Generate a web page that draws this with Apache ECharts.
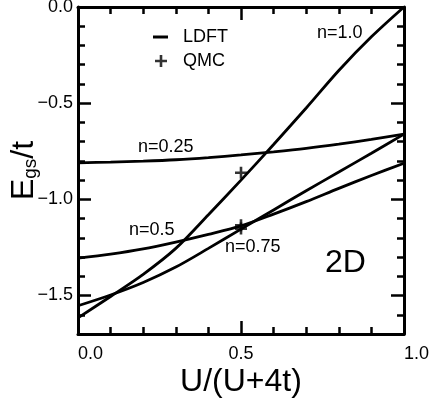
<!DOCTYPE html>
<html>
<head>
<meta charset="utf-8">
<script src="https://cdn.jsdelivr.net/npm/echarts@6/dist/echarts.min.js"></script>
<style>html,body{margin:0;padding:0;background:#fff}#c{width:429px;height:399px}</style>
</head>
<body>
<div id="c"></div>
<script>
// ---- data ----
const xs = [0.0, 0.1, 0.2, 0.3, 0.4, 0.5, 0.6, 0.7, 0.8, 0.9, 1.0];
const ldft_n100 = [-1.616, -1.505, -1.390, -1.255, -1.080, -0.900, -0.715, -0.525, -0.330, -0.155, 0.000];
const ldft_n025 = [-0.810, -0.806, -0.801, -0.794, -0.783, -0.769, -0.753, -0.735, -0.713, -0.688, -0.661];
const ldft_n050 = [-1.305, -1.285, -1.258, -1.222, -1.182, -1.138, -1.077, -1.012, -0.943, -0.876, -0.812];
const ldft_n075 = [-1.553, -1.497, -1.432, -1.352, -1.255, -1.155, -1.055, -0.955, -0.858, -0.760, -0.661];
const qmcX = [0.5, 0.5, 0.5];
const qmcY = [-0.862, -1.135, -1.152];
const yMajorTicks = [-1.5, -1.0, -0.5, 0.0];
const xTickLabels = ['0.0', '0.5', '1.0'];

const FONT = 'Liberation Sans';
const plus = 'path://M4.7,0h2.6v4.7h4.7v2.6h-4.7v4.7h-2.6v-4.7h-4.7v-2.6h4.7z';
const toPairs = ys => xs.map((x, i) => [x, ys[i]]);
const fmt = v => (v < 0 ? '\u2212' : '') + Math.abs(v).toFixed(1);

const lineStyle = {color: '#000', width: 3};
const tickMajor = {show: true, inside: true, length: 13, lineStyle: {color: '#000', width: 2.5}};
const tickMinor = {show: true, inside: true, length: 7, lineStyle: {color: '#000', width: 2.5}};

function xAx(pos, withLabel) {
  return {
    type: 'value', position: pos, min: 0, max: 1, interval: 0.5,
    axisLine: {show: true, onZero: false, lineStyle: lineStyle},
    axisTick: tickMajor,
    minorTick: {show: true, splitNumber: 5, length: 7, lineStyle: {color: '#000', width: 2.5}},
    splitLine: {show: false}, minorSplitLine: {show: false},
    axisLabel: withLabel ? {
      show: true, margin: 11, color: '#000', fontFamily: FONT, fontSize: 18,
      alignMinLabel: 'left', alignMaxLabel: 'left',
      formatter: v => xTickLabels[Math.round(v * 2)] || ''
    } : {show: false}
  };
}
function yMinor(pos, withLabel) {
  return {
    type: 'value', position: pos, min: -1.7, max: 0, interval: 0.1,
    axisLine: {show: true, onZero: false, lineStyle: lineStyle},
    axisTick: tickMinor,
    splitLine: {show: false},
    axisLabel: withLabel ? {
      show: true, margin: 5, color: '#000', fontFamily: FONT, fontSize: 18,
      customValues: yMajorTicks, formatter: v => fmt(v)
    } : {show: false}
  };
}
function yMajor(pos) {
  return {
    type: 'value', position: pos, min: -1.7, max: 0, interval: 0.1,
    axisLine: {show: false, onZero: false},
    axisTick: Object.assign({}, tickMajor, {customValues: yMajorTicks}),
    splitLine: {show: false},
    axisLabel: {show: false}
  };
}

const chart = echarts.init(document.getElementById('c'), null, {renderer: 'canvas'});
const xMain = xAx('bottom', true);
xMain.name = 'U/(U+4t)';
xMain.nameLocation = 'middle';
xMain.nameGap = 32;
xMain.nameMoveOverlap = false;
xMain.nameTextStyle = {fontFamily: FONT, fontSize: 32, color: '#000'};

const yMain = yMinor('left', true);
yMain.name = '{a|E}{b|gs}{a|/t}';
yMain.nameLocation = 'middle';
yMain.nameGap = 38;
yMain.nameMoveOverlap = false;
yMain.nameTextStyle = {
  fontFamily: FONT, color: '#000',
  rich: {
    a: {fontFamily: FONT, fontSize: 32, lineHeight: 32, verticalAlign: 'top', color: '#000'},
    b: {fontFamily: FONT, fontSize: 19, lineHeight: 19, verticalAlign: 'bottom', padding: [22, 0, 0, 0], color: '#000'}
  }
};

const lineSeries = (ys) => ({
  type: 'line', name: 'LDFT', data: toPairs(ys), xAxisIndex: 0, yAxisIndex: 0,
  showSymbol: false, smooth: 0.3, color: '#000',
  lineStyle: {color: '#000', width: 2.8}, itemStyle: {color: '#000'}
});

chart.setOption({
  animation: false,
  backgroundColor: '#fff',
  grid: {left: 78, right: 25, top: 7, bottom: 65, containLabel: false, outerBoundsMode: 'none'},
  xAxis: [xMain, xAx('top', false)],
  yAxis: [yMain, yMajor('left'), yMinor('right', false), yMajor('right')],
  legend: [
    {data: [{name: 'LDFT', icon: 'rect'}], left: 153, top: 28, padding: 0,
     itemWidth: 15, itemHeight: 3, selectedMode: false,
     textStyle: {fontFamily: FONT, fontSize: 18, color: '#000', padding: [0, 0, 0, 10]}},
    {data: [{name: 'QMC', icon: plus}], left: 155, top: 52, padding: 0,
     itemWidth: 12, itemHeight: 12, selectedMode: false,
     textStyle: {fontFamily: FONT, fontSize: 18, color: '#000', padding: [0, 0, 0, 11]}}
  ],
  series: [
    lineSeries(ldft_n100),
    lineSeries(ldft_n025),
    lineSeries(ldft_n050),
    lineSeries(ldft_n075),
    {type: 'scatter', name: 'QMC', data: qmcX.map((x, i) => [x, qmcY[i]]),
     symbol: plus, symbolSize: 12, itemStyle: {color: '#000'}, color: '#000', z: 5}
  ],
  graphic: [
    {type: 'text', left: 317, top: 24, style: {text: 'n=1.0', font: '18px "Liberation Sans"', fill: '#000'}},
    {type: 'text', left: 138, top: 138, style: {text: 'n=0.25', font: '18px "Liberation Sans"', fill: '#000'}},
    {type: 'text', left: 129, top: 221, style: {text: 'n=0.5', font: '18px "Liberation Sans"', fill: '#000'}},
    {type: 'text', left: 225, top: 238, style: {text: 'n=0.75', font: '18px "Liberation Sans"', fill: '#000'}},
    {type: 'text', left: 325, top: 247, style: {text: '2D', font: '32px "Liberation Sans"', fill: '#000'}}
  ]
});
</script>
</body>
</html>
